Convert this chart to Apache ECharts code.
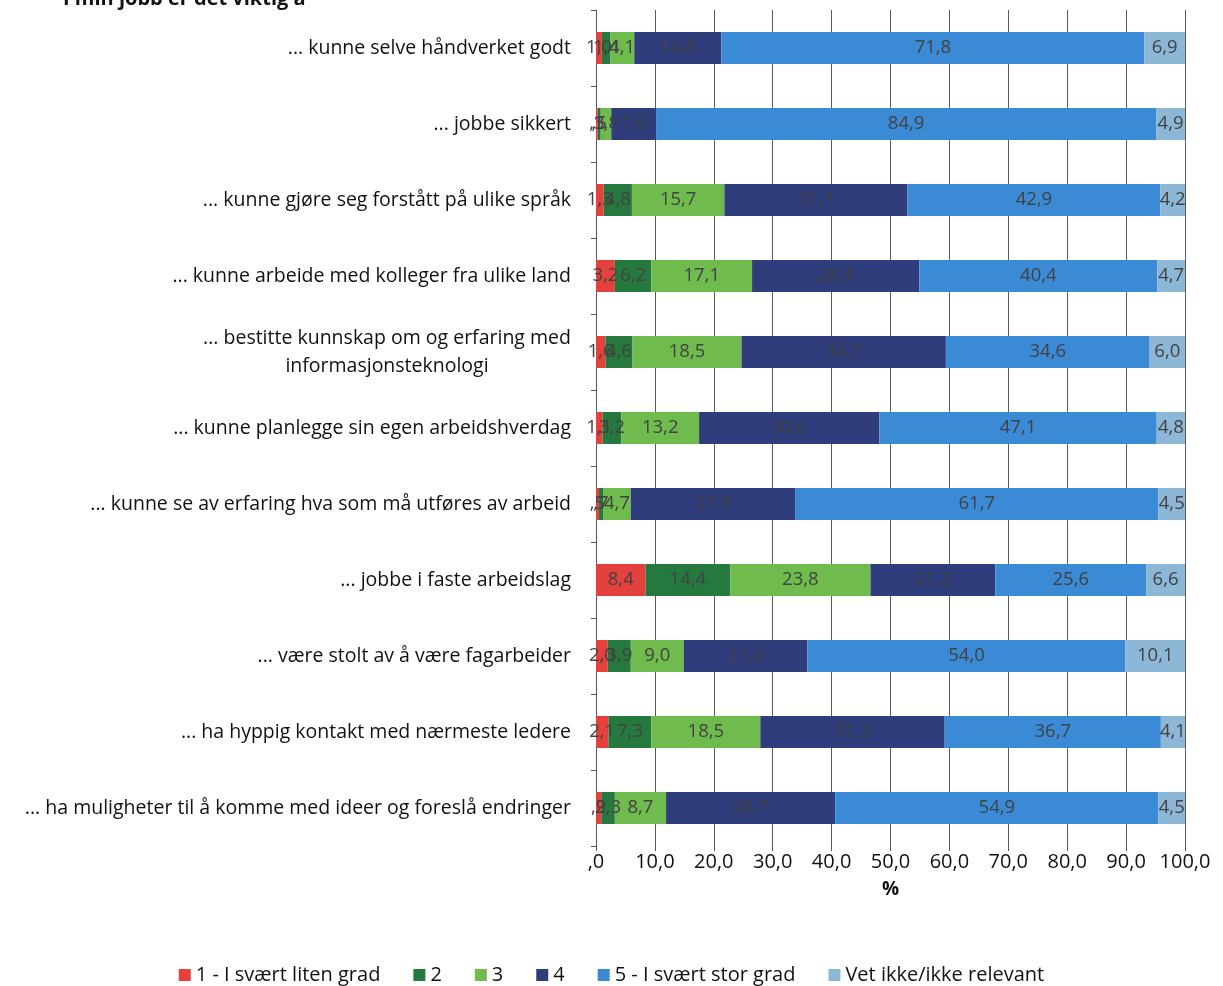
<!DOCTYPE html>
<html>
<head>
<meta charset="utf-8">
<script src="https://cdn.jsdelivr.net/npm/echarts@6/dist/echarts.min.js"></script>
<style>
  html, body { margin: 0; padding: 0; background: #fff; }
  #chart { width: 1223px; height: 986px; }
</style>
</head>
<body>
<div id="chart"></div>
<script>
// Statements, top to bottom
const categories = [
  '... kunne selve håndverket godt',
  '... jobbe sikkert',
  '... kunne gjøre seg forstått på ulike språk',
  '... kunne arbeide med kolleger fra ulike land',
  '... bestitte kunnskap om og erfaring med\ninformasjonsteknologi',
  '... kunne planlegge sin egen arbeidshverdag',
  '... kunne se av erfaring hva som må utføres av arbeid',
  '... jobbe i faste arbeidslag',
  '... være stolt av å være fagarbeider',
  '... ha hyppig kontakt med nærmeste ledere',
  '... ha muligheter til å komme med ideer og foreslå endringer'
];

// Percent answering each option, per statement
const grad1   = [1.0, 0.3, 1.3, 3.2, 1.6, 1.1, 0.5, 8.4, 2.0, 2.1, 0.9];
const grad2   = [1.4, 0.5, 4.8, 6.2, 4.6, 3.2, 0.7, 14.4, 3.9, 7.3, 2.3];
const grad3   = [4.1, 1.8, 15.7, 17.1, 18.5, 13.2, 4.7, 23.8, 9.0, 18.5, 8.7];
const grad4   = [14.8, 7.6, 31.1, 28.4, 34.7, 30.6, 27.9, 21.2, 21.0, 31.3, 28.7];
const grad5   = [71.8, 84.9, 42.9, 40.4, 34.6, 47.1, 61.7, 25.6, 54.0, 36.7, 54.9];
const vetIkke = [6.9, 4.9, 4.2, 4.7, 6.0, 4.8, 4.5, 6.6, 10.1, 4.1, 4.5];

const seriesNames = ['1 - I svært liten grad', '2', '3', '4', '5 - I svært stor grad', 'Vet ikke/ikke relevant'];
const seriesData = [grad1, grad2, grad3, grad4, grad5, vetIkke];
const colors = ['#e4413d', '#25793f', '#6fbb4e', '#2f3d7c', '#3b8ad5', '#8db7d6'];

const FONT = 'Open Sans';
const CAT_SIZE = 19.5;

// Norwegian number style: comma decimal, no leading zero below 1
function fmt(v) {
  let s = Number(v).toFixed(1).replace('.', ',');
  if (s.startsWith('0,')) s = s.slice(1);
  return s;
}

// Width of the widest line of a wrapped label, so its lines can be centred
const measureCtx = document.createElement('canvas').getContext('2d');
function textWidth(t, size) {
  measureCtx.font = size + 'px "' + FONT + '"';
  return Math.ceil(measureCtx.measureText(t).width);
}
const wrapWidth = Math.max(...categories
  .filter(c => c.indexOf('\n') >= 0)
  .map(c => Math.max(...c.split('\n').map(l => textWidth(l, CAT_SIZE)))));

const chart = echarts.init(document.getElementById('chart'));

const series = seriesNames.map((name, i) => ({
  name: name,
  type: 'bar',
  stack: 'total',
  barWidth: 32,
  itemStyle: { color: colors[i] },
  label: {
    show: true,
    position: 'inside',
    color: '#424242',
    fontFamily: FONT,
    fontSize: 18.5,
    formatter: p => fmt(p.value)
  },
  data: seriesData[i]
}));

chart.setOption({
  animation: false,
  color: colors,
  grid: { left: 596, right: 38, top: 10, bottom: 140, containLabel: false },
  graphic: [{
    type: 'text',
    left: 63,
    top: -11,
    style: {
      text: 'I min jobb er det viktig å',
      font: 'bold 20px "' + FONT + '"',
      fill: '#111'
    }
  }],
  xAxis: {
    type: 'value',
    min: 0,
    max: 100,
    interval: 10,
    name: '%',
    nameLocation: 'middle',
    nameGap: 34,
    nameTextStyle: { fontFamily: FONT, fontSize: 19, fontWeight: 'bold', color: '#111' },
    axisLine: { show: false },
    axisTick: { show: true, length: 5, lineStyle: { color: '#555' } },
    axisLabel: {
      fontFamily: FONT, fontSize: 20, color: '#111', margin: 6,
      formatter: v => fmt(v)
    },
    splitLine: { show: true, lineStyle: { color: '#5a5a5a', width: 1 } }
  },
  yAxis: {
    type: 'category',
    inverse: true,
    data: categories,
    axisLine: { show: true, lineStyle: { color: '#555', width: 1 } },
    axisTick: { show: true, length: 5, lineStyle: { color: '#555' } },
    axisLabel: {
      fontFamily: FONT, fontSize: CAT_SIZE, color: '#111', margin: 25,
      formatter: function (v) {
        if (v.indexOf('\n') < 0) return v;
        return v.split('\n').map(l => '{c|' + l + '}').join('\n');
      },
      rich: {
        c: {
          fontFamily: FONT, fontSize: CAT_SIZE, color: '#111', align: 'center',
          width: wrapWidth, lineHeight: 28
        }
      }
    }
  },
  legend: {
    bottom: -4,
    left: 'center',
    itemWidth: 12,
    itemHeight: 12,
    itemGap: 33,
    icon: 'rect',
    textStyle: { fontFamily: FONT, fontSize: 20, color: '#111' },
    data: seriesNames
  },
  series: series
});
</script>
</body>
</html>
